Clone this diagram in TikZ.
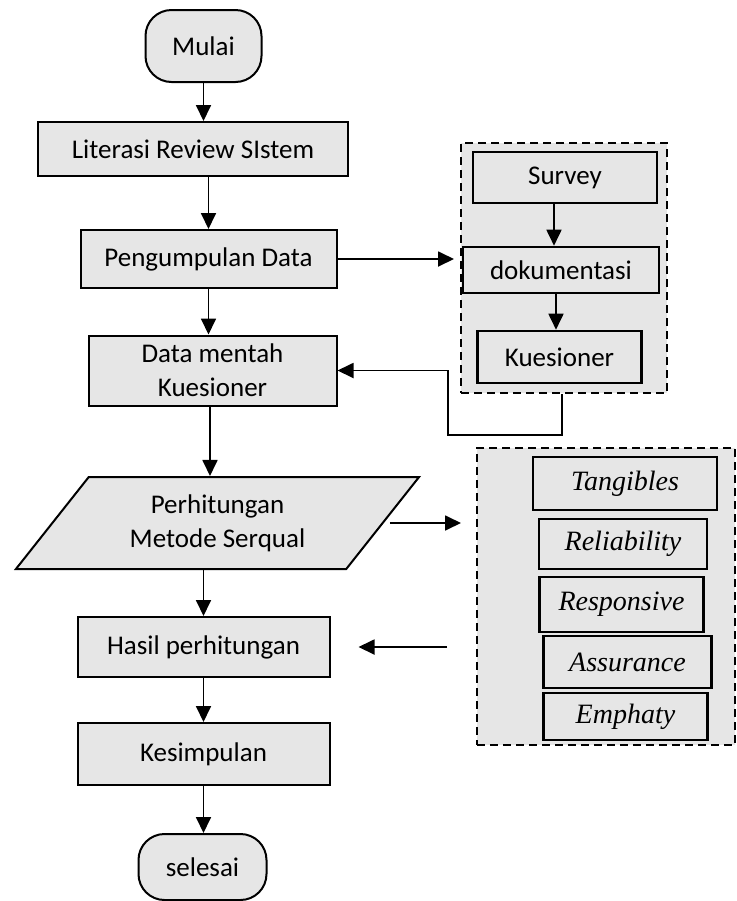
\documentclass[tikz,border=0pt]{standalone}
\usepackage{fontspec}
\setmainfont{Carlito}
\newfontfamily\serifit{Liberation Serif}
\usepackage{tikz}
\usetikzlibrary{shapes,arrows,arrows.meta}
\definecolor{isian}{RGB}{230,230,230}

\begin{document}
\begin{tikzpicture}
		[
		x = 0.5pt, y = -0.5pt,
		every node/.style = {font = \fontsize{13.5}{17}\selectfont},
		kotak/.style = {draw, line width = 1pt, fill = isian, align = center, inner sep = 0pt},
		ujung/.style = {kotak, rounded corners = 13pt},
		miring/.style = {kotak, trapezium, trapezium left angle = 49, trapezium right angle = 131, trapezium stretches},
		grup/.style = {draw, dash pattern = on 4pt off 2.5pt, line width = 1pt, fill = isian, inner sep = 0pt},
		isi/.style = {kotak, line width = 1.3pt},
		dimensi/.style = {isi, font = \fontsize{14}{16}\selectfont\serifit\itshape},
		panah/.style = {-{Triangle[length = 8pt, width = 7.5pt]}, line width = 0.9pt},
		]
		
		\useasboundingbox (0,0) rectangle (737,901);
		
		\node [ujung, minimum width = 58pt, minimum height = 36pt] (mulai) at (203.5,46) {Mulai};
		\node [kotak, minimum width = 155pt, minimum height = 27pt] (literasi) at (193,149) {Literasi Review SIstem};
		\node [kotak, minimum width = 128pt, minimum height = 29pt] (kumpul) at (208.5,259) {Pengumpulan Data};
		\node [kotak, minimum width = 124pt, minimum height = 35pt] (mentah) at (212.5,370.5) {Data mentah\\Kuesioner};
		\node [miring, minimum width = 202pt, minimum height = 46pt] (hitung) at (217.5,523) {Perhitungan\\Metode Serqual};
		\node [kotak, minimum width = 126pt, minimum height = 30pt] (hasil) at (203.5,647) {Hasil perhitungan};
		\node [kotak, minimum width = 126pt, minimum height = 31pt] (simpulan) at (203.5,754) {Kesimpulan};
		\node [ujung, minimum width = 64pt, minimum height = 33pt] (selesai) at (202.5,867) {selesai};
		
		\node [grup, minimum width = 103pt, minimum height = 125pt] (grupA) at (564,268) {};
		\node [isi, minimum width = 92pt, minimum height = 25.5pt] (survey) at (565,177.5) {Survey};
		\node [isi, minimum width = 98pt, minimum height = 23pt] (dokumen) at (561,270) {dokumentasi};
		\node [isi, minimum width = 82pt, minimum height = 26pt] (kuesioner) at (559.5,357) {Kuesioner};
		
		\node [grup, minimum width = 129pt, minimum height = 148.5pt] (grupB) at (606,596.5) {};
		\node [dimensi, minimum width = 92pt, minimum height = 26.5pt] (tangibles) at (625,483.5) {Tangibles};
		\node [dimensi, minimum width = 84pt, minimum height = 25pt] (reliability) at (623,544) {Reliability};
		\node [dimensi, minimum width = 82pt, minimum height = 27.5pt] (responsive) at (621.5,604.5) {Responsive};
		\node [dimensi, minimum width = 84pt, minimum height = 26pt] (assurance) at (627.5,662) {Assurance};
		\node [dimensi, minimum width = 82pt, minimum height = 23.5pt] (emphaty) at (625.5,716.5) {Emphaty};
		
		\coordinate (balik) at (448,435);
		
		\draw [panah] (mulai.south) -- (literasi.north -| mulai.south);
		\draw [panah] (literasi.south -| kumpul.north) -- (kumpul.north);
		\draw [panah] (kumpul.south) -- (mentah.north -| kumpul.south);
		\draw [panah] (mentah.south -| 210,0) -- (hitung.north -| 210,0);
		\draw [panah] (hitung.south -| hasil.north) -- (hasil.north);
		\draw [panah] (hasil.south) -- (simpulan.north);
		\draw [panah] (simpulan.south) -- (selesai.north -| simpulan.south);
		
		\draw [panah, shorten > = 3pt] (kumpul.east) -- (grupA.west |- kumpul.east);
		\draw [panah] (survey.south -| 554,0) -- (dokumen.north -| 554,0);
		\draw [panah] (dokumen.south -| 556,0) -- (kuesioner.north -| 556,0);
		\draw [panah] (grupA.south -| 562,0) |- (balik) |- (mentah.east);
		
		\draw [panah, shorten < = 3pt, shorten > = 7.5pt] (hitung.east) -- (grupB.west |- hitung.east);
		\draw [panah, shorten < = 14.5pt, shorten > = 14pt] (grupB.west |- hasil.east) -- (hasil.east);
		
		\end{tikzpicture}
\end{document}
